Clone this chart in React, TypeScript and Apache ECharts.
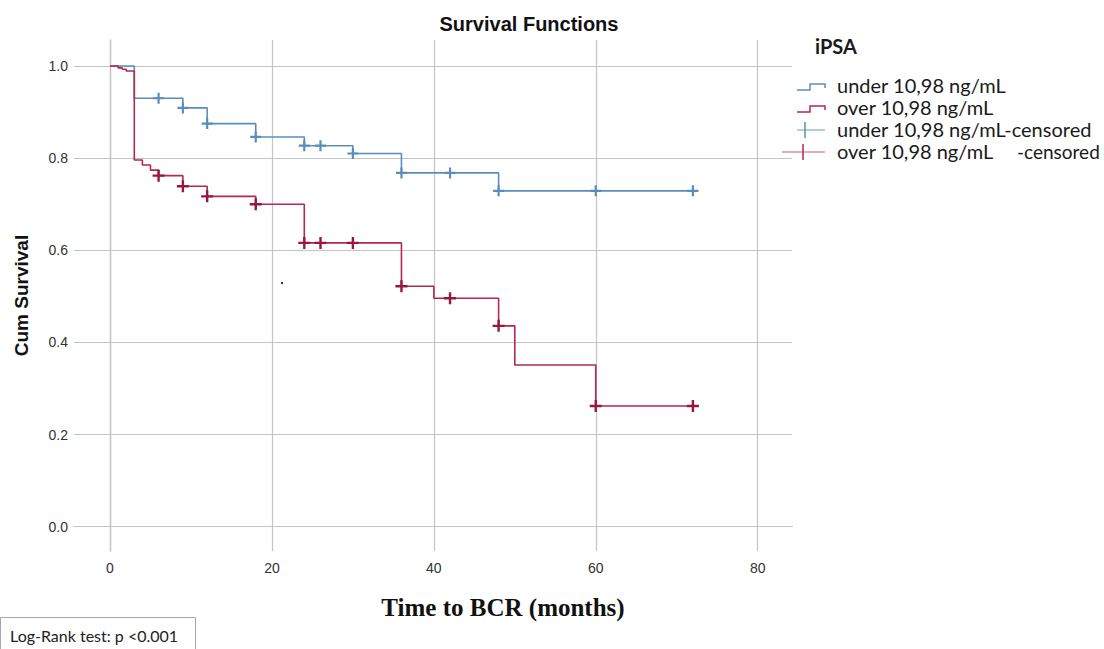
import React, { useEffect, useRef } from "react";
import * as echarts from "echarts";

// ---- data ----
const xTicks = [0, 20, 40, 60, 80];
const yTicks = [0, 0.2, 0.4, 0.6, 0.8, 1.0];

const underTimes = [0, 3, 9, 12, 18, 24, 30, 36, 48, 72];
const underSurv = [1.0, 0.930, 0.909, 0.875, 0.846, 0.827, 0.810, 0.768, 0.729, 0.729];
const underCensorTimes = [6, 9, 12, 18, 24, 26, 30, 36, 42, 48, 60, 72];
const underCensorSurv = [0.930, 0.909, 0.875, 0.846, 0.827, 0.827, 0.810, 0.768, 0.768, 0.729, 0.729, 0.729];

const overTimes = [0, 1, 1.5, 2, 3, 4, 5, 6, 9, 12, 18, 24, 36, 40, 48, 50, 60, 72];
const overSurv = [1.0, 0.996, 0.993, 0.989, 0.796, 0.785, 0.774, 0.762, 0.739, 0.717, 0.700, 0.616, 0.522, 0.496, 0.436, 0.351, 0.262, 0.262];
const overCensorTimes = [6, 9, 12, 18, 24, 26, 30, 36, 42, 48, 60, 72];
const overCensorSurv = [0.762, 0.739, 0.717, 0.700, 0.616, 0.616, 0.616, 0.522, 0.496, 0.436, 0.262, 0.262];

const seriesNames = [
  "under 10,98 ng/mL",
  "over 10,98 ng/mL",
  "under 10,98 ng/mL-censored",
  "over 10,98 ng/mL -censored",
];

const BLUE = "#5b8dbb";
const RED = "#b3294f";
const RED_DARK = "#96183f";
const PLUS = "path://M4,0H6V4H10V6H6V10H4V6H0V4H4Z";

const zip = (a: number[], b: number[]) => a.map((v, i) => [v, b[i]]);

export default function App() {
  const ref = useRef<HTMLDivElement>(null);
  useEffect(() => {
    document.body.style.margin = "0";
    if (!ref.current) return;
    const chart = echarts.init(ref.current, null, { renderer: "svg" });

    const gridMarks = [
      ...xTicks.map((v) => ({ xAxis: v })),
      ...yTicks.map((v) => ({ yAxis: v })),
    ];

    const legendX = 797;
    const stepIcon = (y: number, color: string) => ({
      type: "polyline",
      shape: { points: [[legendX, y + 3], [legendX + 13, y + 3], [legendX + 13, y - 3], [legendX + 28, y - 3], [legendX + 28, y + 1]] },
      style: { stroke: color, fill: null, lineWidth: 1.5 },
    });
    const crossIcon = (y: number, color: string, cx: number, x0: number) => ({
      type: "group",
      children: [
        { type: "line", shape: { x1: x0, y1: y, x2: legendX + 28, y2: y }, style: { stroke: color, lineWidth: 1.2, opacity: 0.75 } },
        { type: "line", shape: { x1: cx, y1: y - 8, x2: cx, y2: y + 8 }, style: { stroke: color, lineWidth: 1.5 } },
      ],
    });
    const legText = (x: number, y: number, text: string, weight = "normal", size = 20) => ({
      type: "text",
      x,
      y,
      style: {
        text,
        fontFamily: "Lato",
        fontSize: size,
        fontWeight: weight,
        lineHeight: 19,
        fill: "#1a1a1a",
        align: "left",
        verticalAlign: "middle",
        textAlign: "left",
        textVerticalAlign: "middle",
      },
    });

    const rows = [85, 107, 129, 151];

    chart.setOption({
      animation: false,
      backgroundColor: "#ffffff",
      title: {
        text: "Survival Functions",
        left: 524,
        top: 9,
        textAlign: "center",
        textStyle: { fontFamily: "Liberation Sans", fontSize: 20, fontWeight: "bold", color: "#111" },
      },
      grid: { left: 74, top: 40, right: 312, bottom: 98 },
      xAxis: {
        type: "value",
        min: -4.447,
        max: 84.24,
        axisLine: { show: true, lineStyle: { color: "#8a8a8a", width: 1.2 } },
        axisTick: { show: false },
        splitLine: { show: false },
        axisLabel: {
          customValues: xTicks,
          fontFamily: "Liberation Sans",
          fontSize: 14,
          color: "#333",
          margin: 10,
          formatter: (v: number) => String(Math.round(v)),
        },
      },
      yAxis: {
        type: "value",
        min: -0.0527,
        max: 1.0564,
        name: "Cum Survival",
        nameLocation: "middle",
        nameRotate: 90,
        nameGap: 43,
        nameTextStyle: { fontFamily: "Liberation Sans", fontSize: 19, fontWeight: "bold", color: "#111" },
        axisLine: { show: true, lineStyle: { color: "#8a8a8a", width: 1.2 } },
        axisTick: { show: false },
        splitLine: { show: false },
        axisLabel: {
          customValues: yTicks,
          fontFamily: "Liberation Sans",
          fontSize: 14,
          color: "#333",
          margin: 6,
          formatter: (v: number) => v.toFixed(1),
        },
      },
      series: [
        {
          name: "grid",
          type: "scatter",
          data: [],
          silent: true,
          z: 1,
          markLine: {
            silent: true,
            z: 1,
            symbol: ["none", "none"],
            label: { show: false },
            lineStyle: { color: "#c4c4c4", width: 1.2, type: "solid" },
            emphasis: { disabled: true },
            data: gridMarks,
          },
        },
        {
          name: seriesNames[0],
          type: "line",
          step: "end",
          z: 3,
          showSymbol: false,
          symbol: "none",
          lineStyle: { color: BLUE, width: 1.6 },
          itemStyle: { color: BLUE },
          data: zip(underTimes, underSurv),
        },
        {
          name: seriesNames[1],
          type: "line",
          step: "end",
          z: 4,
          showSymbol: false,
          symbol: "none",
          lineStyle: { color: RED, width: 1.6 },
          itemStyle: { color: RED },
          data: zip(overTimes, overSurv),
        },
        {
          name: seriesNames[2],
          type: "scatter",
          z: 5,
          symbol: PLUS,
          symbolSize: 11,
          itemStyle: { color: BLUE, opacity: 1 },
          data: zip(underCensorTimes, underCensorSurv),
        },
        {
          name: seriesNames[3],
          type: "scatter",
          z: 6,
          symbol: PLUS,
          symbolSize: 12,
          itemStyle: { color: RED_DARK, opacity: 1 },
          data: zip(overCensorTimes, overCensorSurv),
        },
      ],
      graphic: [
        {
          type: "text",
          x: 503,
          y: 607,
          style: {
            text: "Time to BCR (months)",
            fontFamily: "Liberation Serif",
            fontSize: 25,
            fontWeight: "bold",
            fill: "#111",
            align: "center",
            verticalAlign: "middle",
            textAlign: "center",
            textVerticalAlign: "middle",
          },
        },
        legText(815, 46, "iPSA", "bold"),
        stepIcon(rows[0] + 2, BLUE),
        legText(837, rows[0], seriesNames[0]),
        stepIcon(rows[1] + 2, RED),
        legText(837, rows[1], seriesNames[1]),
        crossIcon(rows[2] + 1, BLUE, 805, legendX),
        legText(837, rows[2], "under 10,98 ng/mL-censored"),
        crossIcon(rows[3] + 1, RED, 803, 782),
        legText(837, rows[3], "over 10,98 ng/mL"),
        legText(1017, rows[3], "-censored", "normal", 19),
        { type: "circle", shape: { cx: 282, cy: 283, r: 1.2 }, style: { fill: "#333" } },
        {
          type: "rect",
          shape: { x: 0.5, y: 617.5, width: 195, height: 40 },
          style: { fill: "#fff", stroke: "#a8a8a8", lineWidth: 1 },
        },
        {
          type: "text",
          x: 10,
          y: 635,
          style: {
            text: "Log-Rank test: p <0.001",
            fontFamily: "Lato",
            fontSize: 16,
            fill: "#222",
            align: "left",
            verticalAlign: "middle",
            textAlign: "left",
            textVerticalAlign: "middle",
          },
        },
      ],
    });
    return () => chart.dispose();
  }, []);
  return <div ref={ref} style={{ width: 1104, height: 649 }} />;
}
